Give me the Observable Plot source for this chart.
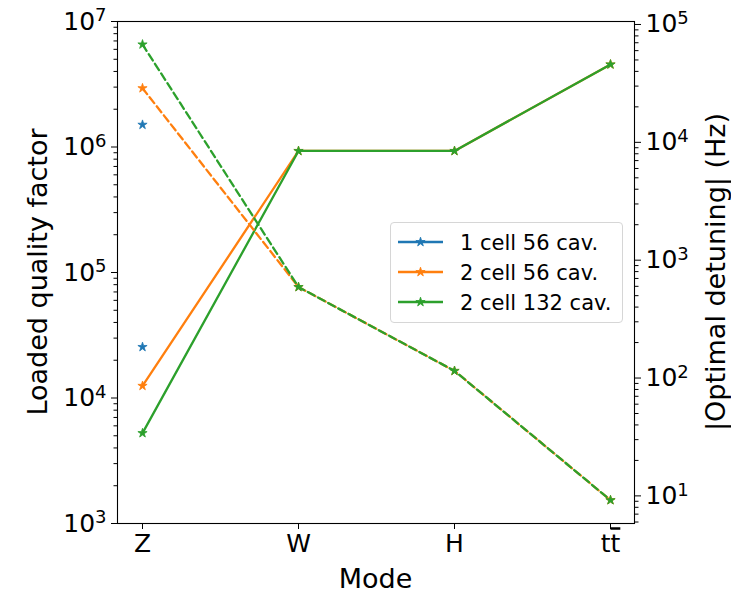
<!DOCTYPE html>
<html><head><meta charset="utf-8">
<script src="https://cdn.jsdelivr.net/npm/d3@7"></script>
<script src="https://cdn.jsdelivr.net/npm/@observablehq/plot@0.6"></script>
<style>
body{margin:0;background:#fff;}
#wrap{position:relative;width:731px;height:594px;font-family:"DejaVu Sans",sans-serif;overflow:hidden;}
.lab{position:absolute;font-size:27px;color:#000;white-space:nowrap;font-family:"DejaVu Sans",sans-serif;}
#legend{position:absolute;left:390px;top:222px;width:231px;height:99px;border:1px solid #d6d6d6;border-radius:4px;background:rgba(255,255,255,0.8);}
</style></head><body><div id="wrap"></div>
<script>
// categories
const modes = ["Z", "W", "H", "tt\u0304"];
const seriesNames = ["1 cell 56 cav.", "2 cell 56 cav.", "2 cell 132 cav."];
const seriesColors = ["#1f77b4", "#ff7f0e", "#2ca02c"];
// loaded quality factor (left axis, solid)
const qLoaded1c56 = [2.55e4, null, null, null];
const qLoaded2c56 = [1.25e4, 9.3e5, 9.3e5, 4.55e6];
const qLoaded2c132 = [5.25e3, 9.3e5, 9.3e5, 4.55e6];
// |optimal detuning| in Hz (right axis, dashed)
const detune1c56 = [1.41e4, null, null, null];
const detune2c56 = [2.88e4, 592, 115, 9.2];
const detune2c132 = [6.77e4, 592, 115, 9.2];
// axes
const leftDomain = [1e3, 1e7];
const rightDomain = [5.83, 1.06e5];
const leftTicks = [1e3, 1e4, 1e5, 1e6, 1e7];
const rightTicks = [1e1, 1e2, 1e3, 1e4, 1e5];

const qSeries = [qLoaded1c56, qLoaded2c56, qLoaded2c132];
const dSeries = [detune1c56, detune2c56, detune2c132];

const la = Math.log10(leftDomain[0]), lb = Math.log10(leftDomain[1]);
const ra = Math.log10(rightDomain[0]), rb = Math.log10(rightDomain[1]);
const toLeft = d => 10 ** (la + (Math.log10(d) - ra) * (lb - la) / (rb - ra));

function rows(arr, k, conv) {
  return arr.map((v, i) => ({mode: modes[i], series: seriesNames[k], value: v == null ? null : conv(v)}))
            .filter(d => d.value != null);
}

const minorLeft = [];
for (let e = 3; e < 7; e++) for (let m = 2; m <= 9; m++) minorLeft.push(m * 10 ** e);
const minorRight = [];
for (let e = 0; e < 5; e++) for (let m = 2; m <= 9; m++) {
  const v = m * 10 ** e;
  if (v >= rightDomain[0] && v <= rightDomain[1]) minorRight.push(toLeft(v));
}

const marks = [];
seriesNames.forEach((s, k) => {
  const data = rows(qSeries[k], k, v => v);
  marks.push(Plot.line(data, {x: "mode", y: "value", stroke: seriesColors[k], strokeWidth: 2.3}));
  marks.push(Plot.dot(data, {x: "mode", y: "value", symbol: "star", r: 2.9, fill: seriesColors[k], stroke: seriesColors[k], strokeWidth: 0.8}));
});
seriesNames.forEach((s, k) => {
  const data = rows(dSeries[k], k, toLeft);
  marks.push(Plot.line(data, {x: "mode", y: "value", stroke: seriesColors[k], strokeWidth: 2.3, strokeDasharray: "7.5,4"}));
  marks.push(Plot.dot(data, {x: "mode", y: "value", symbol: "star", r: 2.9, fill: seriesColors[k], stroke: seriesColors[k], strokeWidth: 0.8}));
});

const fmtPow = d => "10^" + Math.round(Math.log10(d));

marks.push(
  Plot.axisY(minorLeft, {anchor: "left", tickSize: 3.5, tickFormat: () => "", label: null}),
  Plot.axisY(leftTicks, {anchor: "left", tickSize: 6, tickPadding: 5, tickFormat: fmtPow, label: null}),
  Plot.axisY(minorRight, {anchor: "right", tickSize: 3.5, tickFormat: () => "", label: null}),
  Plot.axisY(rightTicks.map(toLeft), {anchor: "right", tickSize: 6, tickFormat: () => "", label: null}),
  Plot.text(rightTicks, {y: d => toLeft(d), text: fmtPow, frameAnchor: "right", dx: 11, textAnchor: "start", lineAnchor: "middle", fill: "black"}),
  Plot.axisX({tickSize: 6, tickPadding: 5, label: null}),
  Plot.frame({stroke: "black", strokeWidth: 1.1})
);

const plot = Plot.plot({
  width: 731,
  height: 594,
  marginLeft: 117,
  marginRight: 97,
  marginTop: 21,
  marginBottom: 71,
  style: {fontFamily: "DejaVu Sans", fontSize: "25px", color: "black", background: "white", overflow: "visible"},
  x: {type: "point", domain: modes, padding: 0.15, align: 0.5, axis: null},
  y: {type: "log", domain: leftDomain, axis: null},
  marks
});

// superscript exponents and the t-bar label
d3.select(plot).selectAll("text").each(function() {
  const t = this.textContent;
  const m = /^10\^(-?\d+)$/.exec(t);
  if (m) {
    const sel = d3.select(this);
    sel.text("10");
    sel.append("tspan").attr("dy", "-0.45em").attr("font-size", "0.72em").text(m[1]);
  } else if (t === "tt\u0304") {
    const sel = d3.select(this);
    sel.text("t");
    sel.append("tspan").style("text-decoration", "overline").text("t");
  }
});

const wrap = document.getElementById("wrap");
wrap.appendChild(plot);

function addLabel(text, cx, cy, rot) {
  const d = document.createElement("div");
  d.className = "lab";
  d.textContent = text;
  d.style.left = cx + "px";
  d.style.top = cy + "px";
  d.style.transform = "translate(-50%,-50%)" + (rot ? " rotate(" + rot + "deg)" : "");
  wrap.appendChild(d);
}
addLabel("Mode", 375.5, 578, 0);
addLabel("Loaded quality factor", 37, 272, -90);
addLabel("|Optimal detuning| (Hz)", 715, 272, -90);

const leg = document.createElement("div");
leg.id = "legend";
wrap.appendChild(leg);
const lsvg = d3.select(leg).append("svg").attr("width", 231).attr("height", 99).style("display", "block");
seriesNames.forEach((s, k) => {
  const y = 19 + 30 * k;
  const g = lsvg.append("g");
  g.append("line").attr("x1", 7).attr("x2", 52).attr("y1", y).attr("y2", y)
    .attr("stroke", seriesColors[k]).attr("stroke-width", 2.3);
  g.append("path").attr("d", d3.symbol(d3.symbolStar, Math.PI * 2.9 * 2.9)())
    .attr("transform", `translate(29.5,${y})`).attr("fill", seriesColors[k])
    .attr("stroke", seriesColors[k]).attr("stroke-width", 0.8);
  g.append("text").attr("x", 69).attr("y", y).attr("dy", "0.36em")
    .attr("font-family", "DejaVu Sans").attr("font-size", "21px").attr("fill", "black").text(s);
});
</script></body></html>
